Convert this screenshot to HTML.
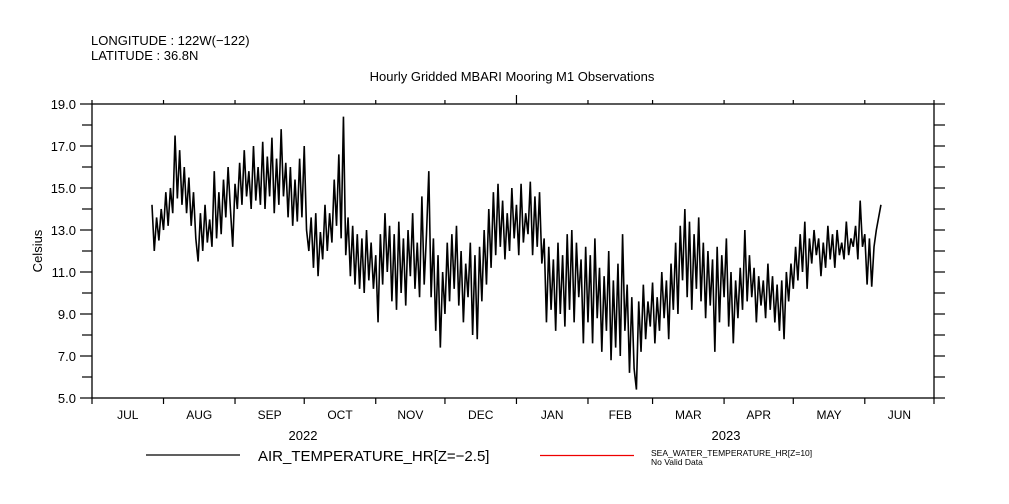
<!DOCTYPE html>
<html><head><meta charset="utf-8">
<style>
body{margin:0;background:#fff;}
svg{display:block;font-family:"Liberation Sans",sans-serif;}
</style></head>
<body>
<svg id="chart" width="1009" height="504" viewBox="0 0 1009 504">
<text x="91" y="45" font-size="13">LONGITUDE : 122W(−122)</text>
<text x="91" y="60" font-size="13">LATITUDE : 36.8N</text>
<text x="512" y="81" font-size="13" text-anchor="middle">Hourly Gridded MBARI Mooring M1 Observations</text>
<text x="42" y="251" font-size="13" text-anchor="middle" transform="rotate(-90 42 251)">Celsius</text>
<rect x="92" y="104" width="842" height="294" fill="none" stroke="#000" stroke-width="1.3"/>
<g id="yaxis"></g>
<g id="xaxis"></g>
<g id="series"></g>
<text x="303" y="440" font-size="13" text-anchor="middle">2022</text>
<text x="726" y="440" font-size="13" text-anchor="middle">2023</text>
<line x1="146" y1="455" x2="240" y2="455" stroke="#000" stroke-width="1.2"/>
<text x="258" y="461" font-size="15">AIR_TEMPERATURE_HR[Z=−2.5]</text>
<line x1="540" y1="455.5" x2="634" y2="455.5" stroke="#e00" stroke-width="1.2"/>
<text x="651" y="456" font-size="8.5">SEA_WATER_TEMPERATURE_HR[Z=10]</text>
<text x="651" y="465" font-size="8.5">No Valid Data</text>
</svg>
<script>
const yTicks=[5,7,9,11,13,15,17,19];
const yMinor=[6,8,10,12,14,16,18];
const monthLabels=["JUL","AUG","SEP","OCT","NOV","DEC","JAN","FEB","MAR","APR","MAY","JUN"];
const monthStartDays=[0,31,62,92,123,153,184,215,243,274,304,335,365];
const startDay=26;
const airTemp=[
14.2,12.0,13.6,12.5,14.0,13.0,14.8,13.2,15.0,13.8,
17.5,14.5,16.8,14.2,16.0,13.8,15.5,13.2,14.8,12.6,
11.5,13.8,12.0,14.2,12.4,13.5,12.2,15.8,12.6,14.8,
12.8,15.4,13.6,16.0,14.0,12.2,15.2,14.0,16.2,14.2,
16.8,14.6,15.8,14.0,17.0,14.4,16.0,14.2,17.2,14.0,
16.5,14.6,17.4,13.8,16.4,14.2,17.8,14.6,16.2,13.6,
16.0,13.2,15.4,13.4,16.4,13.6,17.0,13.0,12.0,13.6,
11.2,13.8,10.8,12.9,11.6,14.2,12.0,13.8,12.4,15.4,
13.2,16.6,12.6,18.4,11.8,13.6,10.8,13.2,10.4,12.8,
10.2,12.6,10.0,13.0,10.6,12.4,10.2,11.8,8.6,12.8,
10.4,13.8,11.0,13.2,9.6,12.8,9.2,13.4,10.0,12.6,
9.4,13.0,10.8,13.8,10.2,12.4,9.8,14.6,10.4,12.8,
15.8,9.8,12.6,8.2,11.8,7.4,11.0,9.0,12.4,9.6,
12.8,10.2,13.2,9.4,12.0,8.6,11.4,9.8,12.4,8.0,
11.8,7.8,12.2,9.6,13.0,10.4,14.0,11.2,14.8,11.8,
15.2,12.2,14.4,11.6,13.8,12.0,15.0,12.6,14.2,11.8,
15.2,12.4,13.8,12.8,15.3,11.8,14.6,12.2,14.8,11.4,
12.6,8.6,12.2,9.2,11.6,8.2,12.4,9.0,11.8,8.4,
12.8,9.2,13.0,8.6,12.4,9.8,11.6,7.6,12.2,8.6,
11.8,7.6,12.6,8.8,11.2,7.2,10.8,8.2,12.0,6.8,
10.6,7.4,11.4,7.0,12.8,8.2,10.4,6.2,9.8,6.4,
5.4,9.6,7.2,10.4,7.8,9.6,8.4,10.5,7.6,9.8,
8.2,11.0,8.8,10.6,7.8,11.4,9.2,12.4,9.0,13.2,
10.6,14.0,9.8,13.4,9.2,12.8,10.2,13.6,9.6,12.4,
8.8,12.0,9.4,11.6,7.2,12.2,8.6,11.8,9.8,12.6,
8.4,11.0,7.6,10.6,8.8,11.2,9.2,13.0,9.6,11.8,
9.8,11.2,8.6,10.8,9.4,10.6,8.8,11.4,9.2,10.8,
8.6,10.4,8.2,10.6,7.8,11.0,9.6,11.4,10.2,12.2,
10.6,12.8,11.0,13.4,10.2,12.6,11.4,13.0,11.8,12.6,
10.8,12.4,11.2,13.2,11.6,12.8,11.2,13.0,11.8,12.4,
11.6,13.4,11.8,12.6,12.2,13.2,11.6,14.4,12.2,12.8,
10.4,12.6,10.3,12.2,13.0,13.6,14.2];

const NS="http://www.w3.org/2000/svg";
const X0=92,X1=934,Y0=398,Y1=104;
function xs(d){return X0+(d/365)*(X1-X0);}
function ys(v){return Y0-(v-5)/14*(Y0-Y1);}
function mk(tag,attrs,parent){const e=document.createElementNS(NS,tag);for(const k in attrs)e.setAttribute(k,attrs[k]);parent.appendChild(e);return e;}
const ya=document.getElementById('yaxis'),xa=document.getElementById('xaxis'),sg=document.getElementById('series');
yTicks.forEach(v=>{
  const y=ys(v);
  const t=mk('line',{x1:80,x2:92,y1:y,y2:y,stroke:'#000','stroke-width':1.2},ya);
  
  
  const r=mk('line',{x1:934,x2:945,y1:y,y2:y,stroke:'#000','stroke-width':1.2},ya);
  
  
  const l=mk('text',{x:76,y:y+5,'font-size':13,'text-anchor':'end'},ya);
  l.textContent=v.toFixed(1);
  
  
});
yMinor.forEach(v=>{
  const y=ys(v);
  const t=mk('line',{x1:82,x2:92,y1:y,y2:y,stroke:'#000','stroke-width':1.2},ya);
  
  
  const r=mk('line',{x1:934,x2:945,y1:y,y2:y,stroke:'#000','stroke-width':1.2},ya);
  
  
});
monthStartDays.forEach((d,i)=>{
  const x=xs(d);
  const b=mk('line',{x1:x,x2:x,y1:398,y2:404,stroke:'#000','stroke-width':1.2},xa);
  
  
  const t=mk('line',{x1:x,x2:x,y1:104,y2:(d===184?95:100),stroke:'#000','stroke-width':1.2},xa);
  
  
  if(i<monthLabels.length){
    const lx=(xs(d)+xs(monthStartDays[i+1]))/2;
    const l=mk('text',{x:lx,y:419,'font-size':12,'text-anchor':'middle'},xa);
    l.textContent=monthLabels[i];
    
    
  }
});
const pts=airTemp.map((v,i)=>xs(startDay+i).toFixed(2)+','+ys(v).toFixed(2)).join(' ');
const pl=mk('polyline',{points:pts,fill:'none',stroke:'#000','stroke-width':1.6,'stroke-linejoin':'miter'},sg);


</script>
</body></html>
